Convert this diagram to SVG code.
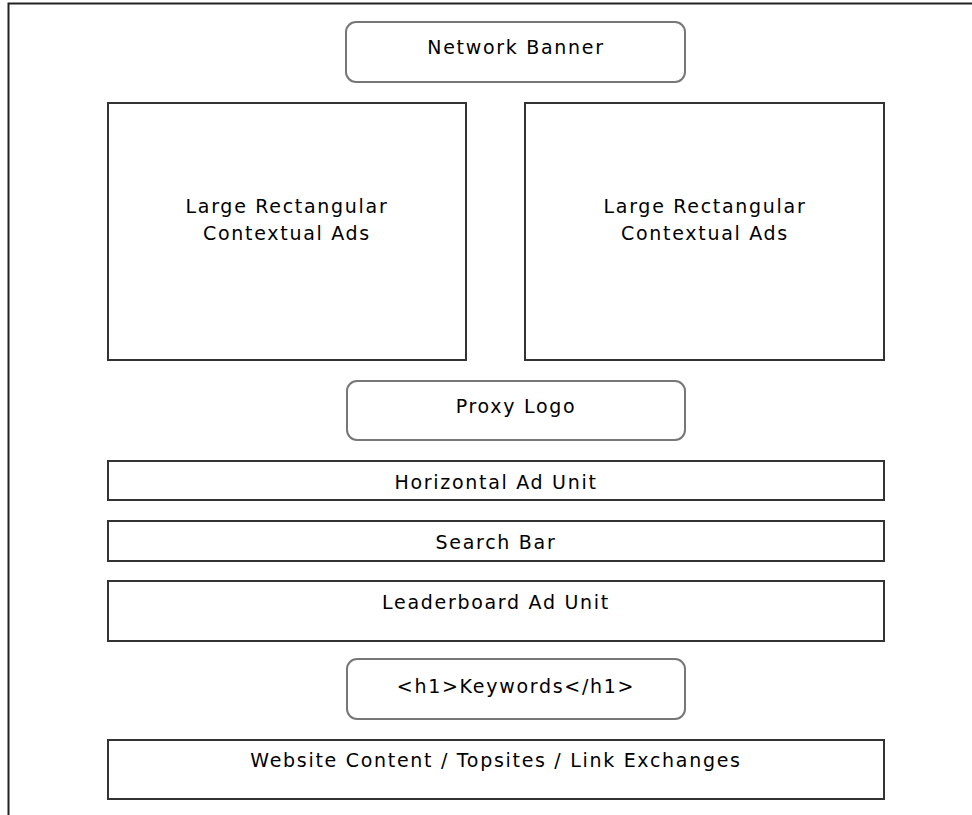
<svg xmlns="http://www.w3.org/2000/svg" width="972" height="815" viewBox="0 0 972 815">
<style>
.box{fill:#fff;stroke:#333;stroke-width:2}
.rbox{fill:#fff;stroke:#777;stroke-width:2}
.t{font-family:"DejaVu Sans","Liberation Sans",sans-serif;font-size:19px;letter-spacing:1.7px;fill:#000;text-anchor:middle}
</style>
<rect width="972" height="815" fill="#fff"/>
<g id="frame"><path d="M972 3.5H8.5V815" fill="none" stroke="#222" stroke-width="2"/></g>
<g id="network-banner"><rect class="rbox" x="346" y="22" width="339" height="60" rx="10"/><text class="t" x="516" y="54">Network Banner</text></g>
<g id="large-rect-left"><rect class="box" x="108" y="103" width="358" height="257"/><text class="t" x="287" y="213">Large Rectangular</text><text class="t" x="287" y="240">Contextual Ads</text></g>
<g id="large-rect-right"><rect class="box" x="525" y="103" width="359" height="257"/><text class="t" x="705" y="213">Large Rectangular</text><text class="t" x="705" y="240">Contextual Ads</text></g>
<g id="proxy-logo"><rect class="rbox" x="347" y="381" width="338" height="59" rx="10"/><text class="t" x="516" y="413">Proxy Logo</text></g>
<g id="horizontal-ad"><rect class="box" x="108" y="461" width="776" height="39"/><text class="t" x="496" y="489">Horizontal Ad Unit</text></g>
<g id="search-bar"><rect class="box" x="108" y="521" width="776" height="40"/><text class="t" x="496" y="549">Search Bar</text></g>
<g id="leaderboard"><rect class="box" x="108" y="581" width="776" height="60"/><text class="t" x="496" y="609">Leaderboard Ad Unit</text></g>
<g id="keywords"><rect class="rbox" x="347" y="659" width="338" height="60" rx="10"/><text class="t" x="516" y="693">&lt;h1&gt;Keywords&lt;/h1&gt;</text></g>
<g id="website-content"><rect class="box" x="108" y="740" width="776" height="59"/><text class="t" x="496" y="767">Website Content / Topsites / Link Exchanges</text></g>
<g id="connectors"/>
</svg>
